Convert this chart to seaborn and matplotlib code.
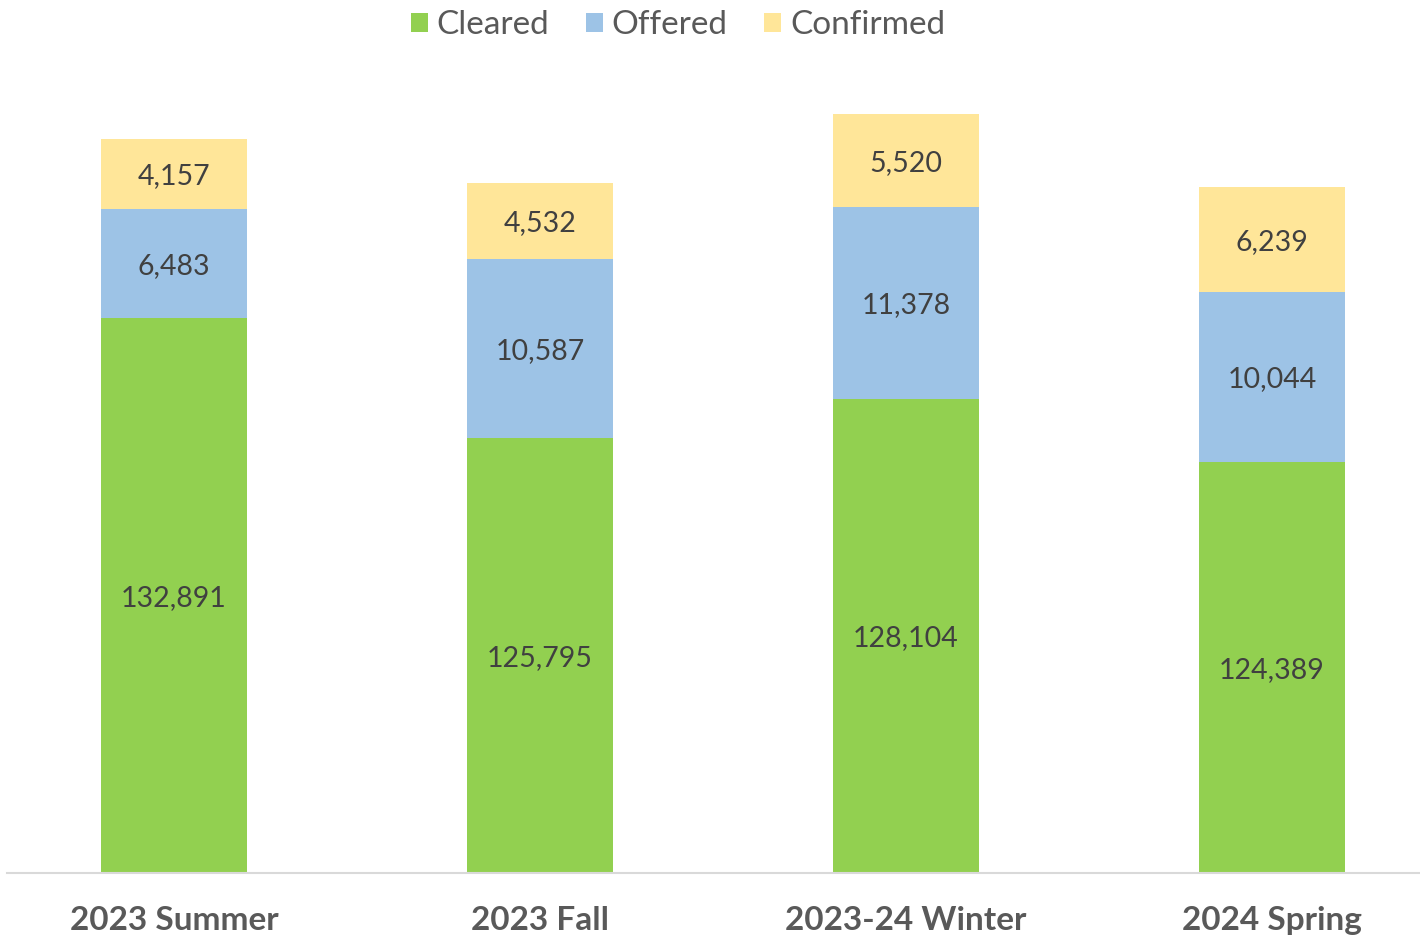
import numpy as np
import pandas as pd
import matplotlib
matplotlib.use("Agg")
import matplotlib.pyplot as plt
import seaborn as sns
from matplotlib.patches import Patch

# chart data
terms = ["2023 Summer", "2023 Fall", "2023-24 Winter", "2024 Spring"]
cleared = [132891, 125795, 128104, 124389]
offered = [6483, 10587, 11378, 10044]
confirmed = [4157, 4532, 5520, 6239]
series_names = ["Cleared", "Offered", "Confirmed"]
colors = ["#92D050", "#9DC3E6", "#FFE699"]

y_floor = 100000  # value axis starts here

df = pd.DataFrame({"term": terms, "Cleared": cleared,
                   "Offered": offered, "Confirmed": confirmed})
df["top_cleared"] = df["Cleared"]
df["top_offered"] = df["Cleared"] + df["Offered"]
df["top_confirmed"] = df["top_offered"] + df["Confirmed"]

sns.set_style("white")
plt.rcParams["font.family"] = ["Lato", "DejaVu Sans"]

fig = plt.figure(figsize=(14.2, 9.36), dpi=100)
ax = fig.add_axes([7 / 1420, 63 / 936, 1413 / 1420, 843.5 / 936])

# draw from tallest to shortest so each segment shows
for col, c in zip(["top_confirmed", "top_offered", "top_cleared"], colors[::-1]):
    sns.barplot(data=df, x="term", y=col, color=c, saturation=1,
                width=0.4, ax=ax, edgecolor="none")

ax.set_ylim(y_floor, 150000)
ax.set_xlim(-167 / 366, 3 + 148 / 366)

# segment labels centred on visible part
for i in range(len(terms)):
    lows = [y_floor, df["top_cleared"][i], df["top_offered"][i]]
    highs = [df["top_cleared"][i], df["top_offered"][i], df["top_confirmed"][i]]
    vals = [cleared[i], offered[i], confirmed[i]]
    for lo, hi, v in zip(lows, highs, vals):
        ax.text(i, (lo + hi) / 2, f"{v:,}", ha="center", va="center_baseline",
                fontsize=20.5, color="#404040")

ax.set_xlabel("")
ax.set_ylabel("")
ax.set_yticks([])
for s in ["top", "left", "right"]:
    ax.spines[s].set_visible(False)
ax.spines["bottom"].set_color("#D9D9D9")
ax.spines["bottom"].set_linewidth(1.5)
ax.tick_params(axis="x", length=0, pad=24, labelsize=24, labelcolor="#595959")
for t in ax.get_xticklabels():
    t.set_fontweight("bold")

handles = [Patch(facecolor=c, edgecolor="none", label=n)
           for n, c in zip(series_names, colors)]
fig.legend(handles=handles, loc="center", bbox_to_anchor=(678 / 1420, 1 - 25 / 936),
           ncol=3, frameon=False, fontsize=24, labelcolor="#595959",
           handlelength=0.5, handleheight=0.5, handletextpad=0.27,
           columnspacing=1.1, borderaxespad=0)

fig.savefig("out.png", dpi=100)
